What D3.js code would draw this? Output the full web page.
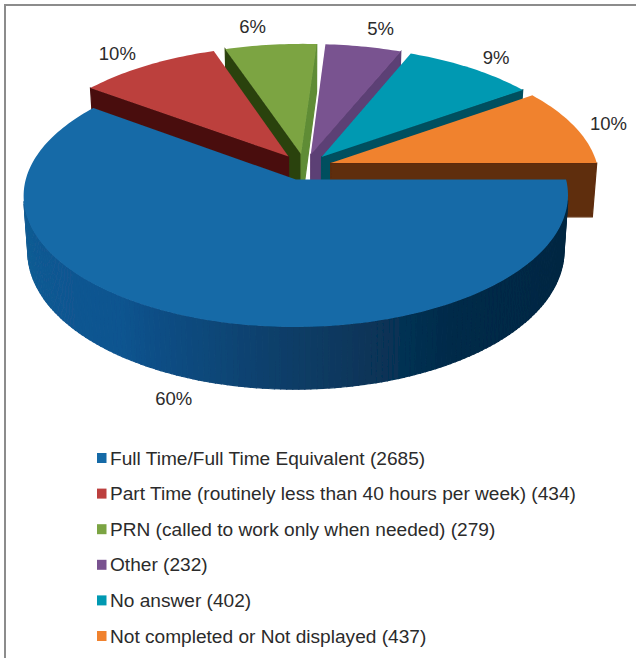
<!doctype html>
<html lang="en">
<head>
  <meta charset="utf-8">
  <title>Employment status pie</title>
  <style>
    * { margin: 0; padding: 0; box-sizing: border-box; }
    html, body { background: #fff; overflow: hidden; }
    text { font-family: "Liberation Sans", Arial, sans-serif; fill: #2b2b2b; }
  </style>
</head>

<body>
  <div id="container"></div>
  <script src="https://cdn.jsdelivr.net/npm/d3@7/dist/d3.min.js"></script>
  <script>
    const categories = [
      'Full Time/Full Time Equivalent',
      'Part Time (routinely less than 40 hours per week)',
      'PRN (called to work only when needed)',
      'Other',
      'No answer',
      'Not completed or Not displayed'
    ];
    const counts = [2685, 434, 279, 232, 402, 437];
    const percentLabels = ['60%', '10%', '6%', '5%', '9%', '10%'];

    const topColors = ['#156aa7', '#bc3f3e', '#7ba443', '#795290', '#0099b2', '#f0822e'];
    const startWallColors = ['#0e4a78', '#4a100e', '#2c420f', '#4f3566', '#004f5e', '#5e2d0a'];
    const endWallColors = ['#0e4a78', '#4a100e', '#5f8c35', '#5c3f74', '#004f5e', '#5e2d0a'];
    const labelNudge = [[-26, 80], [-30, -12], [-18, -18], [17, -18], [25, -11], [34, -3]];

    const width = 636, height = 658;
    const cx = 304.6, cy = 167;    // pie centre before the slices are pulled out
    const R = 267, S = 126.5;      // disc radii on screen
    const k = 0.12;                // perspective strength
    const depth = 54;              // pie thickness
    const bottomShrink = 0.985;    // verticals converge a little downward
    const explode = 0.103;

    const svg = d3.select('#container').append('svg')
      .attr('width', width).attr('height', height)
      .style('display', 'block');

    // the source picture is a soft scan
    svg.append('defs').append('filter').attr('id', 'soft')
      .append('feGaussianBlur').attr('stdDeviation', 0.5);

    // frame
    svg.append('path')
      .attr('d', d3.line()([[5, height], [5, 5], [width, 5]]))
      .attr('fill', 'none').attr('stroke', '#8c8c8c').attr('stroke-width', 2);

    const top3d = (u, v) => {
      const w = 1 - k * v;
      return [cx + R * u / w, cy + S * v / w];
    };
    const bottom3d = (u, v) => {
      const w = 1 - k * v;
      return [cx + R * bottomShrink * u / w, cy + (S * v + depth) / w];
    };

    // blue rim darkens from left to right
    const rimShade = d3.scaleLinear()
      .domain([0, 1.0, 1.57, 2.2, Math.PI])
      .range(['#002640', '#022a48', '#0e3d66', '#115490', '#135f95']);

    const pie = d3.pie().value(d => d).sort(null)
      .startAngle(Math.PI / 2).endAngle(Math.PI / 2 + 2 * Math.PI);

    const slices = pie(counts).map((d, i) => {
      const a0 = d.startAngle - Math.PI / 2, a1 = d.endAngle - Math.PI / 2;
      const mid = (a0 + a1) / 2;
      const ox = explode * Math.cos(mid), oy = explode * Math.sin(mid);
      const at = a => [ox + Math.cos(a), oy + Math.sin(a)];
      const n = Math.max(4, Math.ceil((a1 - a0) / 0.02));
      const angles = d3.range(n + 1).map(j => a0 + (a1 - a0) * j / n);
      return { i, a0, a1, mid, ox, oy, at, angles };
    });

    // paint from the back of the pie to the front
    const drawOrder = d3.sort(slices, s => Math.sin(s.mid));
    const line = d3.line();
    const plot = svg.append('g').attr('filter', 'url(#soft)');

    drawOrder.forEach(s => {
      const g = plot.append('g').attr('class', 'slice');
      const apex = [s.ox, s.oy];

      const quad = (p, q, fill) => {
        const pts = [top3d(...p), top3d(...q), bottom3d(...q), bottom3d(...p)];
        // only faces turned toward the viewer
        if (d3.polygonArea(pts) >= 0) return;
        g.append('path').attr('d', line(pts) + 'Z')
          .attr('fill', fill).attr('stroke', fill).attr('stroke-width', 1.2);
      };

      quad(s.at(s.a0), apex, startWallColors[s.i]);
      quad(apex, s.at(s.a1), endWallColors[s.i]);

      d3.pairs(s.angles).forEach(([b0, b1]) => {
        const fill = s.i === 0 ? rimShade((b0 + b1) / 2) : endWallColors[s.i];
        quad(s.at(b1), s.at(b0), fill);
      });

      const outline = [apex].concat(s.angles.map(s.at)).map(p => top3d(...p));
      g.append('path').attr('d', line(outline) + 'Z').attr('fill', topColors[s.i]);
    });

    // percent labels sit off the rim at each slice's middle
    svg.append('g').selectAll('text').data(slices).join('text')
      .attr('x', s => top3d(...s.at(s.mid))[0] + labelNudge[s.i][0])
      .attr('y', s => top3d(...s.at(s.mid))[1] + labelNudge[s.i][1])
      .attr('dy', '0.35em')
      .attr('text-anchor', 'middle')
      .attr('font-size', 18.5)
      .text(s => percentLabels[s.i]);

    // legend
    const legendY = d3.scalePoint().domain(d3.range(categories.length)).range([458, 636]);
    const legend = svg.append('g').selectAll('g').data(categories).join('g')
      .attr('transform', (d, i) => `translate(97,${legendY(i)})`);
    legend.append('rect')
      .attr('x', 0).attr('y', -5).attr('width', 9.5).attr('height', 10)
      .attr('fill', (d, i) => topColors[i]);
    legend.append('text')
      .attr('x', 13).attr('dy', '0.35em')
      .attr('font-size', 19.1)
      .text((d, i) => `${d} (${counts[i]})`);
  </script>
</body>

</html>
